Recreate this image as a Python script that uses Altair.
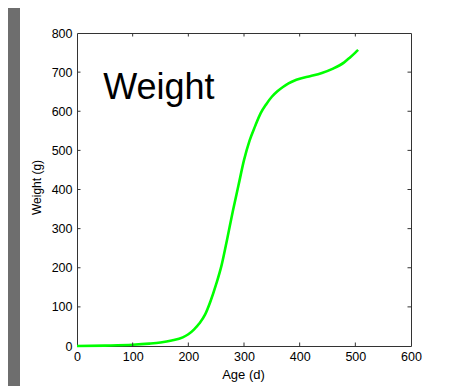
import altair as alt
import pandas as pd

# Growth curve
ages = [0, 50, 100, 130, 150, 170, 190, 200, 210, 220, 230, 240, 250, 260, 270,
        280, 290, 300, 310, 320, 330, 340, 350, 360, 370, 380, 390, 400, 420,
        440, 460, 480, 490, 500, 505]
weights = [0, 1, 3, 6, 9, 14, 22, 30, 42, 58, 80, 115, 158, 208, 275,
           345, 410, 475, 525, 562, 595, 618, 637, 651, 662, 671, 678, 683, 690,
           698, 709, 725, 737, 750, 757]

x_ticks = [100, 200, 300, 400, 500]
y_ticks = [100, 200, 300, 400, 500, 600, 700]
x_tick_labels = [0, 100, 200, 300, 400, 500, 600]
y_tick_labels = [0, 100, 200, 300, 400, 500, 600, 700, 800]

label_text = ["Weight"]
label_age = [47]
label_weight = [631]

W, H = 334, 313
TL = 3.5
FONT = "Liberation Sans"
AX = "#333333"

df = pd.DataFrame({"age": ages, "weight": weights})
xt = pd.DataFrame({"age": x_ticks})
yt = pd.DataFrame({"weight": y_ticks})
lab = pd.DataFrame({"age": label_age, "weight": label_weight, "t": label_text})

xscale = alt.Scale(domain=[0, 600], nice=False, zero=False)
yscale = alt.Scale(domain=[0, 800], nice=False, zero=False)

x_axis = alt.Axis(title="Age (d)", values=x_tick_labels, ticks=False, domain=False,
                  grid=False, labelPadding=4, labelFontSize=12.5, labelFont=FONT,
                  labelColor="black", titleFont=FONT, titleFontSize=13,
                  titleFontWeight="normal", titleColor="black",
                  titleX=W / 2 - 1, titleY=32, titleBaseline="alphabetic",
                  labelFlush=False, labelOverlap=False)
y_axis = alt.Axis(title="Weight (g)", values=y_tick_labels, ticks=False, domain=False,
                  grid=False, labelPadding=5, labelFontSize=12.5, labelFont=FONT,
                  labelColor="black", titleFont=FONT, titleFontSize=12,
                  titleFontWeight="normal", titleColor="black",
                  titleX=-37, titleY=154, titleBaseline="alphabetic",
                  titleAngle=270, labelFlush=False, labelOverlap=False)

X = lambda: alt.X("age:Q", scale=xscale, axis=x_axis)
Y = lambda: alt.Y("weight:Q", scale=yscale, axis=y_axis)

# dark strip of the figure window on the left
strip = alt.Chart(pd.DataFrame({"a": [0]})).mark_rect(color="#6e6e6e").encode(
    x=alt.value(-80), x2=alt.value(-57), y=alt.value(-40), y2=alt.value(H + 60)
)

line = alt.Chart(df).mark_line(color="#00ff00", strokeWidth=2.6,
                               interpolate="monotone").encode(x=X(), y=Y())

tick_bottom = alt.Chart(xt).mark_rule(color=AX, strokeWidth=1).encode(
    x=X(), y=alt.value(H), y2=alt.value(H - TL))
tick_top = alt.Chart(xt).mark_rule(color=AX, strokeWidth=1).encode(
    x=X(), y=alt.value(0), y2=alt.value(TL))
tick_left = alt.Chart(yt).mark_rule(color=AX, strokeWidth=1).encode(
    y=Y(), x=alt.value(0), x2=alt.value(TL))
tick_right = alt.Chart(yt).mark_rule(color=AX, strokeWidth=1).encode(
    y=Y(), x=alt.value(W), x2=alt.value(W - TL))

text = alt.Chart(lab).mark_text(align="left", baseline="alphabetic", fontSize=36,
                                font=FONT, color="black").encode(
    x=X(), y=Y(), text="t:N")

chart = alt.layer(strip, line, tick_bottom, tick_top, tick_left, tick_right, text).properties(
    width=W, height=H,
    autosize=alt.AutoSizeParams(type="none"),
    padding={"left": 69, "top": 25, "right": 35, "bottom": 40},
    background="white",
).configure_view(stroke=AX, strokeWidth=1)

chart.save("out.html", embed_options={"renderer": "svg", "actions": False})
